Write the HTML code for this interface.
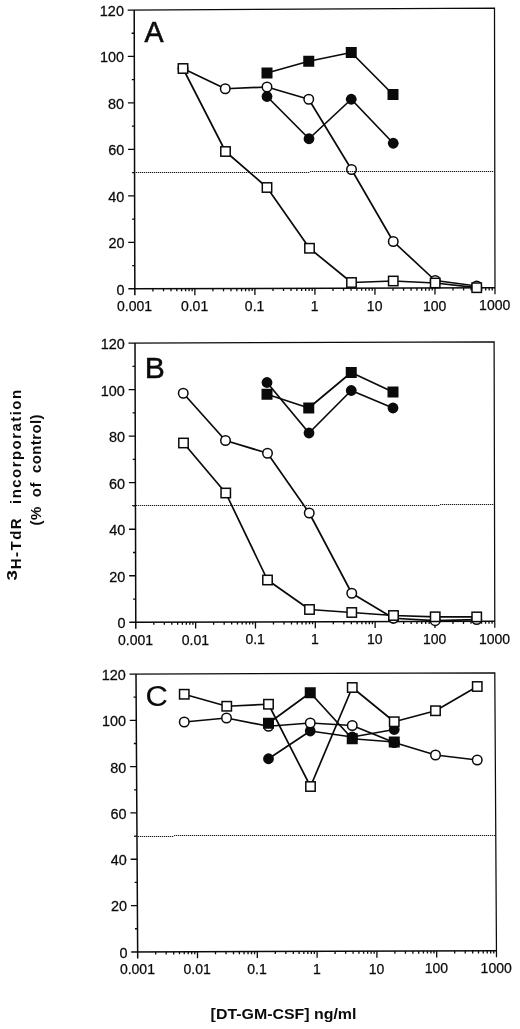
<!DOCTYPE html>
<html lang="en"><head><meta charset="utf-8"><title>Figure</title>
<style>html,body{margin:0;padding:0;background:#fff}svg{display:block;filter:grayscale(1)}</style>
</head><body>
<svg width="520" height="1029" viewBox="0 0 520 1029">
<rect width="520" height="1029" fill="#fff"/>
<g font-family="'Liberation Sans', Arial, Helvetica, sans-serif" fill="#0a0a0a">
<g id="panelA">
<path d="M127.70 10.03 L494.50 8.10 L495.00 294.35" fill="none" stroke="#0a0a0a" stroke-width="1.25"/>
<path d="M134.20 10.00 L134.85 295.35 M128.35 288.87 L495.00 287.85" fill="none" stroke="#0a0a0a" stroke-width="1.5"/>
<path d="M134.80 265.61h-2.6M134.74 242.38h-6.5M134.69 219.14h-2.6M134.63 195.90h-6.5M134.58 172.66h-2.6M134.52 149.43h-6.5M134.47 126.19h-2.6M134.42 102.95h-6.5M134.36 79.71h-2.6M134.31 56.47h-6.5M134.25 33.24h-2.6M152.92 288.80v2.6M163.49 288.77v2.6M170.99 288.75v2.6M176.81 288.73v2.6M181.56 288.72v2.6M185.58 288.71v2.6M189.06 288.70v2.6M192.13 288.69v2.6M194.88 288.68v6.5M212.94 288.63v2.6M223.51 288.60v2.6M231.01 288.58v2.6M236.83 288.57v2.6M241.58 288.55v2.6M245.60 288.54v2.6M249.08 288.53v2.6M252.15 288.52v2.6M254.90 288.52v6.5M272.97 288.47v2.6M283.54 288.44v2.6M291.04 288.42v2.6M296.86 288.40v2.6M301.61 288.39v2.6M305.63 288.38v2.6M309.11 288.37v2.6M312.18 288.36v2.6M314.92 288.35v6.5M332.99 288.30v2.6M343.56 288.27v2.6M351.06 288.25v2.6M356.88 288.23v2.6M361.63 288.22v2.6M365.65 288.21v2.6M369.13 288.20v2.6M372.20 288.19v2.6M374.95 288.18v6.5M393.02 288.13v2.6M403.59 288.10v2.6M411.09 288.08v2.6M416.91 288.07v2.6M421.66 288.05v2.6M425.68 288.04v2.6M429.16 288.03v2.6M432.23 288.02v2.6M434.98 288.02v6.5M453.04 287.97v2.6M463.61 287.94v2.6M471.11 287.92v2.6M476.93 287.90v2.6M481.68 287.89v2.6M485.70 287.88v2.6M489.18 287.87v2.6M492.25 287.86v2.6" fill="none" stroke="#0a0a0a" stroke-width="1.3"/>
<text transform="translate(124.55 294.75) scale(1.03 1)" font-size="14" text-anchor="end" stroke="#0a0a0a" stroke-width="0.25">0</text>
<text transform="translate(124.44 248.28) scale(1.03 1)" font-size="14" text-anchor="end" stroke="#0a0a0a" stroke-width="0.25">20</text>
<text transform="translate(124.33 201.80) scale(1.03 1)" font-size="14" text-anchor="end" stroke="#0a0a0a" stroke-width="0.25">40</text>
<text transform="translate(124.22 155.33) scale(1.03 1)" font-size="14" text-anchor="end" stroke="#0a0a0a" stroke-width="0.25">60</text>
<text transform="translate(124.12 108.85) scale(1.03 1)" font-size="14" text-anchor="end" stroke="#0a0a0a" stroke-width="0.25">80</text>
<text transform="translate(124.01 62.37) scale(1.03 1)" font-size="14" text-anchor="end" stroke="#0a0a0a" stroke-width="0.25">100</text>
<text transform="translate(123.90 15.90) scale(1.03 1)" font-size="14" text-anchor="end" stroke="#0a0a0a" stroke-width="0.25">120</text>
<text transform="translate(134.55 311.35) scale(1.0 1)" font-size="14" text-anchor="middle" stroke="#0a0a0a" stroke-width="0.25">0.001</text>
<text transform="translate(194.57 311.18) scale(1.0 1)" font-size="14" text-anchor="middle" stroke="#0a0a0a" stroke-width="0.25">0.01</text>
<text transform="translate(254.60 311.02) scale(1.0 1)" font-size="14" text-anchor="middle" stroke="#0a0a0a" stroke-width="0.25">0.1</text>
<text transform="translate(314.62 310.85) scale(1.0 1)" font-size="14" text-anchor="middle" stroke="#0a0a0a" stroke-width="0.25">1</text>
<text transform="translate(374.65 310.68) scale(1.0 1)" font-size="14" text-anchor="middle" stroke="#0a0a0a" stroke-width="0.25">10</text>
<text transform="translate(434.68 310.52) scale(1.0 1)" font-size="14" text-anchor="middle" stroke="#0a0a0a" stroke-width="0.25">100</text>
<text transform="translate(494.70 310.35) scale(1.0 1)" font-size="14" text-anchor="middle" stroke="#0a0a0a" stroke-width="0.25">1000</text>
<text transform="translate(144.6 41.9) scale(0.97 1)" font-size="29.5" stroke="#0a0a0a" stroke-width="0.6">A</text>
<polyline points="267.00,96.50 309.00,138.75 351.25,99.25 393.25,143.25" fill="none" stroke="#0a0a0a" stroke-width="1.7" stroke-linejoin="round"/>
<polyline points="183.00,68.50 225.25,88.75 267.00,87.00 308.75,99.25 351.50,169.50 393.25,241.50 435.20,280.50 476.70,286.00" fill="none" stroke="#0a0a0a" stroke-width="1.7" stroke-linejoin="round"/>
<polyline points="267.00,73.00 308.75,61.25 351.25,52.50 393.00,94.50" fill="none" stroke="#0a0a0a" stroke-width="1.7" stroke-linejoin="round"/>
<polyline points="183.00,68.50 225.50,151.50 267.00,187.50 309.50,248.25 351.50,282.50 393.25,281.00 435.20,283.00 476.70,287.70" fill="none" stroke="#0a0a0a" stroke-width="1.7" stroke-linejoin="round"/>
<circle cx="267.00" cy="96.50" r="5.4" fill="#0a0a0a"/>
<circle cx="309.00" cy="138.75" r="5.4" fill="#0a0a0a"/>
<circle cx="351.25" cy="99.25" r="5.4" fill="#0a0a0a"/>
<circle cx="393.25" cy="143.25" r="5.4" fill="#0a0a0a"/>
<circle cx="183.00" cy="68.50" r="4.75" fill="#fff" stroke="#0a0a0a" stroke-width="1.5"/>
<circle cx="225.25" cy="88.75" r="4.75" fill="#fff" stroke="#0a0a0a" stroke-width="1.5"/>
<circle cx="267.00" cy="87.00" r="4.75" fill="#fff" stroke="#0a0a0a" stroke-width="1.5"/>
<circle cx="308.75" cy="99.25" r="4.75" fill="#fff" stroke="#0a0a0a" stroke-width="1.5"/>
<circle cx="351.50" cy="169.50" r="4.75" fill="#fff" stroke="#0a0a0a" stroke-width="1.5"/>
<circle cx="393.25" cy="241.50" r="4.75" fill="#fff" stroke="#0a0a0a" stroke-width="1.5"/>
<circle cx="435.20" cy="280.50" r="4.75" fill="#fff" stroke="#0a0a0a" stroke-width="1.5"/>
<circle cx="476.70" cy="286.00" r="4.75" fill="#fff" stroke="#0a0a0a" stroke-width="1.5"/>
<rect x="261.50" y="67.50" width="11" height="11" fill="#0a0a0a"/>
<rect x="303.25" y="55.75" width="11" height="11" fill="#0a0a0a"/>
<rect x="345.75" y="47.00" width="11" height="11" fill="#0a0a0a"/>
<rect x="387.50" y="89.00" width="11" height="11" fill="#0a0a0a"/>
<rect x="178.30" y="63.80" width="9.4" height="9.4" fill="#fff" stroke="#0a0a0a" stroke-width="1.5"/>
<rect x="220.80" y="146.80" width="9.4" height="9.4" fill="#fff" stroke="#0a0a0a" stroke-width="1.5"/>
<rect x="262.30" y="182.80" width="9.4" height="9.4" fill="#fff" stroke="#0a0a0a" stroke-width="1.5"/>
<rect x="304.80" y="243.55" width="9.4" height="9.4" fill="#fff" stroke="#0a0a0a" stroke-width="1.5"/>
<rect x="346.80" y="277.80" width="9.4" height="9.4" fill="#fff" stroke="#0a0a0a" stroke-width="1.5"/>
<rect x="388.55" y="276.30" width="9.4" height="9.4" fill="#fff" stroke="#0a0a0a" stroke-width="1.5"/>
<rect x="430.50" y="278.30" width="9.4" height="9.4" fill="#fff" stroke="#0a0a0a" stroke-width="1.5"/>
<rect x="472.00" y="283.00" width="9.4" height="9.4" fill="#fff" stroke="#0a0a0a" stroke-width="1.5"/>
<path d="M132 172.5h1.25M134 172.5h1.25M136 172.5h1.25M138 172.5h1.25M140 172.5h1.25M142 172.5h1.25M144 172.5h1.25M146 172.5h1.25M148 172.5h1.25M150 172.5h1.25M152 172.5h1.25M154 172.5h1.25M156 172.5h1.25M158 172.5h1.25M160 172.5h1.25M162 172.5h1.25M164 172.5h1.25M166 172.5h1.25M168 172.5h1.25M170 172.5h1.25M172 172.5h1.25M174 172.5h1.25M176 172.5h1.25M178 172.5h1.25M180 172.5h1.25M182 172.5h1.25M184 172.5h1.25M186 172.5h1.25M188 172.5h1.25M190 172.5h1.25M192 172.5h1.25M194 172.5h1.25M196 172.5h1.25M198 172.5h1.25M200 172.5h1.25M202 172.5h1.25M204 172.5h1.25M206 172.5h1.25M208 172.5h1.25M210 172.5h1.25M212 172.5h1.25M214 172.5h1.25M216 172.5h1.25M218 172.5h1.25M220 172.5h1.25M222 172.5h1.25M224 172.5h1.25M226 172.5h1.25M228 172.5h1.25M230 172.5h1.25M232 172.5h1.25M234 172.5h1.25M236 172.5h1.25M238 172.5h1.25M240 172.5h1.25M242 172.5h1.25M244 172.5h1.25M246 172.5h1.25M248 172.5h1.25M250 172.5h1.25M252 172.5h1.25M254 172.5h1.25M256 172.5h1.25M258 172.5h1.25M260 172.5h1.25M262 172.5h1.25M264 172.5h1.25M266 172.5h1.25M268 172.5h1.25M270 172.5h1.25M272 172.5h1.25M274 172.5h1.25M276 172.5h1.25M278 172.5h1.25M280 172.5h1.25M282 172.5h1.25M284 172.5h1.25M286 172.5h1.25M288 172.5h1.25M290 172.5h1.25M292 172.5h1.25M294 172.5h1.25M296 172.5h1.25M298 172.5h1.25M300 172.5h1.25M302 172.5h1.25M304 172.5h1.25M306 172.5h1.25M308 172.5h1.25M310 171.5h1.25M312 171.5h1.25M314 171.5h1.25M316 171.5h1.25M318 171.5h1.25M320 171.5h1.25M322 171.5h1.25M324 171.5h1.25M326 171.5h1.25M328 171.5h1.25M330 171.5h1.25M332 171.5h1.25M334 171.5h1.25M336 171.5h1.25M338 171.5h1.25M340 171.5h1.25M342 171.5h1.25M344 171.5h1.25M346 171.5h1.25M348 171.5h1.25M350 171.5h1.25M352 171.5h1.25M354 171.5h1.25M356 171.5h1.25M358 171.5h1.25M360 171.5h1.25M362 171.5h1.25M364 171.5h1.25M366 171.5h1.25M368 171.5h1.25M370 171.5h1.25M372 171.5h1.25M374 171.5h1.25M376 171.5h1.25M378 171.5h1.25M380 171.5h1.25M382 171.5h1.25M384 171.5h1.25M386 171.5h1.25M388 171.5h1.25M390 171.5h1.25M392 171.5h1.25M394 171.5h1.25M396 171.5h1.25M398 171.5h1.25M400 171.5h1.25M402 171.5h1.25M404 171.5h1.25M406 171.5h1.25M408 171.5h1.25M410 171.5h1.25M412 171.5h1.25M414 171.5h1.25M416 171.5h1.25M418 171.5h1.25M420 171.5h1.25M422 171.5h1.25M424 171.5h1.25M426 171.5h1.25M428 171.5h1.25M430 171.5h1.25M432 171.5h1.25M434 171.5h1.25M436 171.5h1.25M438 171.5h1.25M440 171.5h1.25M442 171.5h1.25M444 171.5h1.25M446 171.5h1.25M448 171.5h1.25M450 171.5h1.25M452 171.5h1.25M454 171.5h1.25M456 171.5h1.25M458 171.5h1.25M460 171.5h1.25M462 171.5h1.25M464 171.5h1.25M466 171.5h1.25M468 171.5h1.25M470 171.5h1.25M472 171.5h1.25M474 171.5h1.25M476 171.5h1.25M478 171.5h1.25M480 171.5h1.25M482 171.5h1.25M484 171.5h1.25M486 171.5h1.25M488 171.5h1.25M490 171.5h1.25M492 171.5h1.25" fill="none" stroke="#1a1a1a" stroke-width="1.15"/>
</g>
<g id="panelB">
<path d="M128.50 343.13 L494.10 341.90 L494.80 627.70" fill="none" stroke="#0a0a0a" stroke-width="1.25"/>
<path d="M135.00 343.10 L135.80 628.80 M129.30 622.32 L494.80 621.20" fill="none" stroke="#0a0a0a" stroke-width="1.5"/>
<path d="M135.73 599.03h-2.6M135.67 575.77h-6.5M135.60 552.50h-2.6M135.53 529.23h-6.5M135.47 505.97h-2.6M135.40 482.70h-6.5M135.33 459.43h-2.6M135.27 436.17h-6.5M135.20 412.90h-2.6M135.13 389.63h-6.5M135.07 366.37h-2.6M153.81 622.24v2.6M164.35 622.21v2.6M171.82 622.19v2.6M177.62 622.17v2.6M182.36 622.16v2.6M186.37 622.15v2.6M189.83 622.13v2.6M192.90 622.13v2.6M195.63 622.12v6.5M213.64 622.06v2.6M224.18 622.03v2.6M231.66 622.01v2.6M237.46 621.99v2.6M242.19 621.97v2.6M246.20 621.96v2.6M249.67 621.95v2.6M252.73 621.94v2.6M255.47 621.93v6.5M273.48 621.88v2.6M284.01 621.85v2.6M291.49 621.82v2.6M297.29 621.81v2.6M302.03 621.79v2.6M306.03 621.78v2.6M309.50 621.77v2.6M312.56 621.76v2.6M315.30 621.75v6.5M333.31 621.69v2.6M343.85 621.66v2.6M351.32 621.64v2.6M357.12 621.62v2.6M361.86 621.61v2.6M365.87 621.60v2.6M369.33 621.58v2.6M372.40 621.58v2.6M375.13 621.57v6.5M393.14 621.51v2.6M403.68 621.48v2.6M411.16 621.46v2.6M416.96 621.44v2.6M421.69 621.42v2.6M425.70 621.41v2.6M429.17 621.40v2.6M432.23 621.39v2.6M434.97 621.38v6.5M452.98 621.33v2.6M463.51 621.30v2.6M470.99 621.27v2.6M476.79 621.26v2.6M481.53 621.24v2.6M485.53 621.23v2.6M489.00 621.22v2.6M492.06 621.21v2.6" fill="none" stroke="#0a0a0a" stroke-width="1.3"/>
<text transform="translate(125.50 628.20) scale(1.03 1)" font-size="14" text-anchor="end" stroke="#0a0a0a" stroke-width="0.25">0</text>
<text transform="translate(125.37 581.67) scale(1.03 1)" font-size="14" text-anchor="end" stroke="#0a0a0a" stroke-width="0.25">20</text>
<text transform="translate(125.23 535.13) scale(1.03 1)" font-size="14" text-anchor="end" stroke="#0a0a0a" stroke-width="0.25">40</text>
<text transform="translate(125.10 488.60) scale(1.03 1)" font-size="14" text-anchor="end" stroke="#0a0a0a" stroke-width="0.25">60</text>
<text transform="translate(124.97 442.07) scale(1.03 1)" font-size="14" text-anchor="end" stroke="#0a0a0a" stroke-width="0.25">80</text>
<text transform="translate(124.83 395.53) scale(1.03 1)" font-size="14" text-anchor="end" stroke="#0a0a0a" stroke-width="0.25">100</text>
<text transform="translate(124.70 349.00) scale(1.03 1)" font-size="14" text-anchor="end" stroke="#0a0a0a" stroke-width="0.25">120</text>
<text transform="translate(135.50 644.80) scale(1.0 1)" font-size="14" text-anchor="middle" stroke="#0a0a0a" stroke-width="0.25">0.001</text>
<text transform="translate(195.33 644.62) scale(1.0 1)" font-size="14" text-anchor="middle" stroke="#0a0a0a" stroke-width="0.25">0.01</text>
<text transform="translate(255.17 644.43) scale(1.0 1)" font-size="14" text-anchor="middle" stroke="#0a0a0a" stroke-width="0.25">0.1</text>
<text transform="translate(315.00 644.25) scale(1.0 1)" font-size="14" text-anchor="middle" stroke="#0a0a0a" stroke-width="0.25">1</text>
<text transform="translate(374.83 644.07) scale(1.0 1)" font-size="14" text-anchor="middle" stroke="#0a0a0a" stroke-width="0.25">10</text>
<text transform="translate(434.67 643.88) scale(1.0 1)" font-size="14" text-anchor="middle" stroke="#0a0a0a" stroke-width="0.25">100</text>
<text transform="translate(494.50 643.70) scale(1.0 1)" font-size="14" text-anchor="middle" stroke="#0a0a0a" stroke-width="0.25">1000</text>
<text transform="translate(144.75 377.7) scale(1.02 1)" font-size="29.5" stroke="#0a0a0a" stroke-width="0.5">B</text>
<polyline points="267.00,382.50 309.00,433.00 351.25,390.50 393.00,408.00" fill="none" stroke="#0a0a0a" stroke-width="1.7" stroke-linejoin="round"/>
<polyline points="183.25,393.25 225.50,440.50 267.50,453.25 309.25,513.00 351.75,593.25 393.50,618.25 435.20,620.70 476.70,619.60" fill="none" stroke="#0a0a0a" stroke-width="1.7" stroke-linejoin="round"/>
<polyline points="267.00,394.25 308.75,408.00 351.25,372.50 393.00,392.00" fill="none" stroke="#0a0a0a" stroke-width="1.7" stroke-linejoin="round"/>
<polyline points="183.50,443.00 225.75,493.00 267.50,580.00 309.50,609.50 351.75,612.50 393.50,615.50 435.20,616.80 476.70,616.90" fill="none" stroke="#0a0a0a" stroke-width="1.7" stroke-linejoin="round"/>
<circle cx="267.00" cy="382.50" r="5.4" fill="#0a0a0a"/>
<circle cx="309.00" cy="433.00" r="5.4" fill="#0a0a0a"/>
<circle cx="351.25" cy="390.50" r="5.4" fill="#0a0a0a"/>
<circle cx="393.00" cy="408.00" r="5.4" fill="#0a0a0a"/>
<circle cx="183.25" cy="393.25" r="4.75" fill="#fff" stroke="#0a0a0a" stroke-width="1.5"/>
<circle cx="225.50" cy="440.50" r="4.75" fill="#fff" stroke="#0a0a0a" stroke-width="1.5"/>
<circle cx="267.50" cy="453.25" r="4.75" fill="#fff" stroke="#0a0a0a" stroke-width="1.5"/>
<circle cx="309.25" cy="513.00" r="4.75" fill="#fff" stroke="#0a0a0a" stroke-width="1.5"/>
<circle cx="351.75" cy="593.25" r="4.75" fill="#fff" stroke="#0a0a0a" stroke-width="1.5"/>
<circle cx="393.50" cy="618.25" r="4.75" fill="#fff" stroke="#0a0a0a" stroke-width="1.5"/>
<circle cx="435.20" cy="620.70" r="4.75" fill="#fff" stroke="#0a0a0a" stroke-width="1.5"/>
<circle cx="476.70" cy="619.60" r="4.75" fill="#fff" stroke="#0a0a0a" stroke-width="1.5"/>
<rect x="261.50" y="388.75" width="11" height="11" fill="#0a0a0a"/>
<rect x="303.25" y="402.50" width="11" height="11" fill="#0a0a0a"/>
<rect x="345.75" y="367.00" width="11" height="11" fill="#0a0a0a"/>
<rect x="387.50" y="386.50" width="11" height="11" fill="#0a0a0a"/>
<rect x="178.80" y="438.30" width="9.4" height="9.4" fill="#fff" stroke="#0a0a0a" stroke-width="1.5"/>
<rect x="221.05" y="488.30" width="9.4" height="9.4" fill="#fff" stroke="#0a0a0a" stroke-width="1.5"/>
<rect x="262.80" y="575.30" width="9.4" height="9.4" fill="#fff" stroke="#0a0a0a" stroke-width="1.5"/>
<rect x="304.80" y="604.80" width="9.4" height="9.4" fill="#fff" stroke="#0a0a0a" stroke-width="1.5"/>
<rect x="347.05" y="607.80" width="9.4" height="9.4" fill="#fff" stroke="#0a0a0a" stroke-width="1.5"/>
<rect x="388.80" y="610.80" width="9.4" height="9.4" fill="#fff" stroke="#0a0a0a" stroke-width="1.5"/>
<rect x="430.50" y="612.10" width="9.4" height="9.4" fill="#fff" stroke="#0a0a0a" stroke-width="1.5"/>
<rect x="472.00" y="612.20" width="9.4" height="9.4" fill="#fff" stroke="#0a0a0a" stroke-width="1.5"/>
<path d="M132 505.5h1.25M134 505.5h1.25M136 505.5h1.25M138 505.5h1.25M140 505.5h1.25M142 505.5h1.25M144 505.5h1.25M146 505.5h1.25M148 505.5h1.25M150 505.5h1.25M152 505.5h1.25M154 505.5h1.25M156 505.5h1.25M158 505.5h1.25M160 505.5h1.25M162 505.5h1.25M164 505.5h1.25M166 505.5h1.25M168 505.5h1.25M170 505.5h1.25M172 505.5h1.25M174 505.5h1.25M176 505.5h1.25M178 505.5h1.25M180 505.5h1.25M182 505.5h1.25M184 505.5h1.25M186 505.5h1.25M188 505.5h1.25M190 505.5h1.25M192 505.5h1.25M194 505.5h1.25M196 505.5h1.25M198 505.5h1.25M200 505.5h1.25M202 505.5h1.25M204 505.5h1.25M206 505.5h1.25M208 505.5h1.25M210 505.5h1.25M212 505.5h1.25M214 505.5h1.25M216 505.5h1.25M218 505.5h1.25M220 505.5h1.25M222 505.5h1.25M224 505.5h1.25M226 505.5h1.25M228 505.5h1.25M230 505.5h1.25M232 505.5h1.25M234 505.5h1.25M236 505.5h1.25M238 505.5h1.25M240 505.5h1.25M242 505.5h1.25M244 505.5h1.25M246 505.5h1.25M248 505.5h1.25M250 505.5h1.25M252 505.5h1.25M254 505.5h1.25M256 505.5h1.25M258 505.5h1.25M260 505.5h1.25M262 505.5h1.25M264 505.5h1.25M266 505.5h1.25M268 505.5h1.25M270 505.5h1.25M272 505.5h1.25M274 505.5h1.25M276 505.5h1.25M278 505.5h1.25M280 505.5h1.25M282 505.5h1.25M284 505.5h1.25M286 505.5h1.25M288 505.5h1.25M290 505.5h1.25M292 505.5h1.25M294 505.5h1.25M296 505.5h1.25M298 505.5h1.25M300 505.5h1.25M302 505.5h1.25M304 505.5h1.25M306 505.5h1.25M308 505.5h1.25M310 505.5h1.25M312 505.5h1.25M314 505.5h1.25M316 505.5h1.25M318 505.5h1.25M320 505.5h1.25M322 505.5h1.25M324 505.5h1.25M326 505.5h1.25M328 505.5h1.25M330 505.5h1.25M332 505.5h1.25M334 505.5h1.25M336 505.5h1.25M338 505.5h1.25M340 505.5h1.25M342 505.5h1.25M344 505.5h1.25M346 505.5h1.25M348 505.5h1.25M350 505.5h1.25M352 505.5h1.25M354 505.5h1.25M356 505.5h1.25M358 505.5h1.25M360 505.5h1.25M362 505.5h1.25M364 505.5h1.25M366 505.5h1.25M368 505.5h1.25M370 505.5h1.25M372 505.5h1.25M374 505.5h1.25M376 505.5h1.25M378 505.5h1.25M380 505.5h1.25M382 505.5h1.25M384 505.5h1.25M386 505.5h1.25M388 505.5h1.25M390 505.5h1.25M392 505.5h1.25M394 505.5h1.25M396 505.5h1.25M398 505.5h1.25M400 505.5h1.25M402 505.5h1.25M404 505.5h1.25M406 505.5h1.25M408 505.5h1.25M410 505.5h1.25M412 505.5h1.25M414 505.5h1.25M416 505.5h1.25M418 505.5h1.25M420 505.5h1.25M422 505.5h1.25M424 505.5h1.25M426 505.5h1.25M428 505.5h1.25M430 505.5h1.25M432 505.5h1.25M434 505.5h1.25M436 505.5h1.25M438 505.5h1.25M440 504.5h1.25M442 504.5h1.25M444 504.5h1.25M446 504.5h1.25M448 504.5h1.25M450 504.5h1.25M452 504.5h1.25M454 504.5h1.25M456 504.5h1.25M458 504.5h1.25M460 504.5h1.25M462 504.5h1.25M464 504.5h1.25M466 504.5h1.25M468 504.5h1.25M470 504.5h1.25M472 504.5h1.25M474 504.5h1.25M476 504.5h1.25M478 504.5h1.25M480 504.5h1.25M482 504.5h1.25M484 504.5h1.25M486 504.5h1.25M488 504.5h1.25M490 504.5h1.25M492 504.5h1.25" fill="none" stroke="#1a1a1a" stroke-width="1.15"/>
</g>
<g id="panelC">
<path d="M129.50 674.03 L494.80 672.90 L496.50 957.30" fill="none" stroke="#0a0a0a" stroke-width="1.25"/>
<path d="M136.00 674.00 L137.70 958.40 M131.20 951.92 L496.50 950.80" fill="none" stroke="#0a0a0a" stroke-width="1.5"/>
<path d="M137.56 928.74h-2.6M137.42 905.58h-6.5M137.27 882.42h-2.6M137.13 859.27h-6.5M136.99 836.11h-2.6M136.85 812.95h-6.5M136.71 789.79h-2.6M136.57 766.63h-6.5M136.43 743.48h-2.6M136.28 720.32h-6.5M136.14 697.16h-2.6M155.70 951.84v2.6M166.23 951.81v2.6M173.70 951.79v2.6M179.50 951.77v2.6M184.23 951.76v2.6M188.24 951.75v2.6M191.70 951.73v2.6M194.76 951.73v2.6M197.50 951.72v6.5M215.50 951.66v2.6M226.03 951.63v2.6M233.50 951.61v2.6M239.30 951.59v2.6M244.03 951.57v2.6M248.04 951.56v2.6M251.50 951.55v2.6M254.56 951.54v2.6M257.30 951.53v6.5M275.30 951.48v2.6M285.83 951.45v2.6M293.30 951.42v2.6M299.10 951.41v2.6M303.83 951.39v2.6M307.84 951.38v2.6M311.30 951.37v2.6M314.36 951.36v2.6M317.10 951.35v6.5M335.10 951.29v2.6M345.63 951.26v2.6M353.10 951.24v2.6M358.90 951.22v2.6M363.63 951.21v2.6M367.64 951.20v2.6M371.10 951.18v2.6M374.16 951.18v2.6M376.90 951.17v6.5M394.90 951.11v2.6M405.43 951.08v2.6M412.90 951.06v2.6M418.70 951.04v2.6M423.43 951.02v2.6M427.44 951.01v2.6M430.90 951.00v2.6M433.96 950.99v2.6M436.70 950.98v6.5M454.70 950.93v2.6M465.23 950.90v2.6M472.70 950.87v2.6M478.50 950.86v2.6M483.23 950.84v2.6M487.24 950.83v2.6M490.70 950.82v2.6M493.76 950.81v2.6" fill="none" stroke="#0a0a0a" stroke-width="1.3"/>
<text transform="translate(127.40 957.80) scale(1.03 1)" font-size="14" text-anchor="end" stroke="#0a0a0a" stroke-width="0.25">0</text>
<text transform="translate(127.12 911.48) scale(1.03 1)" font-size="14" text-anchor="end" stroke="#0a0a0a" stroke-width="0.25">20</text>
<text transform="translate(126.83 865.17) scale(1.03 1)" font-size="14" text-anchor="end" stroke="#0a0a0a" stroke-width="0.25">40</text>
<text transform="translate(126.55 818.85) scale(1.03 1)" font-size="14" text-anchor="end" stroke="#0a0a0a" stroke-width="0.25">60</text>
<text transform="translate(126.27 772.53) scale(1.03 1)" font-size="14" text-anchor="end" stroke="#0a0a0a" stroke-width="0.25">80</text>
<text transform="translate(125.98 726.22) scale(1.03 1)" font-size="14" text-anchor="end" stroke="#0a0a0a" stroke-width="0.25">100</text>
<text transform="translate(125.70 679.90) scale(1.03 1)" font-size="14" text-anchor="end" stroke="#0a0a0a" stroke-width="0.25">120</text>
<text transform="translate(137.40 974.40) scale(1.0 1)" font-size="14" text-anchor="middle" stroke="#0a0a0a" stroke-width="0.25">0.001</text>
<text transform="translate(197.20 974.22) scale(1.0 1)" font-size="14" text-anchor="middle" stroke="#0a0a0a" stroke-width="0.25">0.01</text>
<text transform="translate(257.00 974.03) scale(1.0 1)" font-size="14" text-anchor="middle" stroke="#0a0a0a" stroke-width="0.25">0.1</text>
<text transform="translate(316.80 973.85) scale(1.0 1)" font-size="14" text-anchor="middle" stroke="#0a0a0a" stroke-width="0.25">1</text>
<text transform="translate(376.60 973.67) scale(1.0 1)" font-size="14" text-anchor="middle" stroke="#0a0a0a" stroke-width="0.25">10</text>
<text transform="translate(436.40 973.48) scale(1.0 1)" font-size="14" text-anchor="middle" stroke="#0a0a0a" stroke-width="0.25">100</text>
<text transform="translate(496.20 973.30) scale(1.0 1)" font-size="14" text-anchor="middle" stroke="#0a0a0a" stroke-width="0.25">1000</text>
<text transform="translate(145.4 706.2) scale(1.05 1)" font-size="29.5" stroke="#0a0a0a" stroke-width="0.1">C</text>
<polyline points="268.50,758.75 310.25,731.00 352.25,737.00 394.25,729.50" fill="none" stroke="#0a0a0a" stroke-width="1.7" stroke-linejoin="round"/>
<polyline points="184.25,722.00 226.50,718.00 268.50,726.25 310.25,723.00 352.25,725.50 394.25,742.50 435.50,755.00 477.25,760.00" fill="none" stroke="#0a0a0a" stroke-width="1.7" stroke-linejoin="round"/>
<polyline points="268.50,723.25 310.25,692.75 352.25,738.75 394.25,742.00" fill="none" stroke="#0a0a0a" stroke-width="1.7" stroke-linejoin="round"/>
<polyline points="184.25,694.25 226.75,706.25 268.50,704.25 310.50,786.50 352.25,687.50 394.25,721.75 435.50,710.75 477.25,686.50" fill="none" stroke="#0a0a0a" stroke-width="1.7" stroke-linejoin="round"/>
<circle cx="268.50" cy="758.75" r="5.4" fill="#0a0a0a"/>
<circle cx="310.25" cy="731.00" r="5.4" fill="#0a0a0a"/>
<circle cx="352.25" cy="737.00" r="5.4" fill="#0a0a0a"/>
<circle cx="394.25" cy="729.50" r="5.4" fill="#0a0a0a"/>
<circle cx="184.25" cy="722.00" r="4.75" fill="#fff" stroke="#0a0a0a" stroke-width="1.5"/>
<circle cx="226.50" cy="718.00" r="4.75" fill="#fff" stroke="#0a0a0a" stroke-width="1.5"/>
<circle cx="268.50" cy="726.25" r="4.75" fill="#fff" stroke="#0a0a0a" stroke-width="1.5"/>
<circle cx="310.25" cy="723.00" r="4.75" fill="#fff" stroke="#0a0a0a" stroke-width="1.5"/>
<circle cx="352.25" cy="725.50" r="4.75" fill="#fff" stroke="#0a0a0a" stroke-width="1.5"/>
<circle cx="394.25" cy="742.50" r="4.75" fill="#fff" stroke="#0a0a0a" stroke-width="1.5"/>
<circle cx="435.50" cy="755.00" r="4.75" fill="#fff" stroke="#0a0a0a" stroke-width="1.5"/>
<circle cx="477.25" cy="760.00" r="4.75" fill="#fff" stroke="#0a0a0a" stroke-width="1.5"/>
<rect x="263.00" y="717.75" width="11" height="11" fill="#0a0a0a"/>
<rect x="304.75" y="687.25" width="11" height="11" fill="#0a0a0a"/>
<rect x="346.75" y="733.25" width="11" height="11" fill="#0a0a0a"/>
<rect x="388.75" y="736.50" width="11" height="11" fill="#0a0a0a"/>
<rect x="179.55" y="689.55" width="9.4" height="9.4" fill="#fff" stroke="#0a0a0a" stroke-width="1.5"/>
<rect x="222.05" y="701.55" width="9.4" height="9.4" fill="#fff" stroke="#0a0a0a" stroke-width="1.5"/>
<rect x="263.80" y="699.55" width="9.4" height="9.4" fill="#fff" stroke="#0a0a0a" stroke-width="1.5"/>
<rect x="305.80" y="781.80" width="9.4" height="9.4" fill="#fff" stroke="#0a0a0a" stroke-width="1.5"/>
<rect x="347.55" y="682.80" width="9.4" height="9.4" fill="#fff" stroke="#0a0a0a" stroke-width="1.5"/>
<rect x="389.55" y="717.05" width="9.4" height="9.4" fill="#fff" stroke="#0a0a0a" stroke-width="1.5"/>
<rect x="430.80" y="706.05" width="9.4" height="9.4" fill="#fff" stroke="#0a0a0a" stroke-width="1.5"/>
<rect x="472.55" y="681.80" width="9.4" height="9.4" fill="#fff" stroke="#0a0a0a" stroke-width="1.5"/>
<path d="M134 836.5h1.25M136 836.5h1.25M138 836.5h1.25M140 836.5h1.25M142 836.5h1.25M144 836.5h1.25M146 836.5h1.25M148 836.5h1.25M150 836.5h1.25M152 836.5h1.25M154 836.5h1.25M156 836.5h1.25M158 836.5h1.25M160 836.5h1.25M162 836.5h1.25M164 836.5h1.25M166 836.5h1.25M168 836.5h1.25M170 836.5h1.25M172 836.5h1.25M174 835.5h1.25M176 835.5h1.25M178 835.5h1.25M180 835.5h1.25M182 835.5h1.25M184 835.5h1.25M186 835.5h1.25M188 835.5h1.25M190 835.5h1.25M192 835.5h1.25M194 835.5h1.25M196 835.5h1.25M198 835.5h1.25M200 835.5h1.25M202 835.5h1.25M204 835.5h1.25M206 835.5h1.25M208 835.5h1.25M210 835.5h1.25M212 835.5h1.25M214 835.5h1.25M216 835.5h1.25M218 835.5h1.25M220 835.5h1.25M222 835.5h1.25M224 835.5h1.25M226 835.5h1.25M228 835.5h1.25M230 835.5h1.25M232 835.5h1.25M234 835.5h1.25M236 835.5h1.25M238 835.5h1.25M240 835.5h1.25M242 835.5h1.25M244 835.5h1.25M246 835.5h1.25M248 835.5h1.25M250 835.5h1.25M252 835.5h1.25M254 835.5h1.25M256 835.5h1.25M258 835.5h1.25M260 835.5h1.25M262 835.5h1.25M264 835.5h1.25M266 835.5h1.25M268 835.5h1.25M270 835.5h1.25M272 835.5h1.25M274 835.5h1.25M276 835.5h1.25M278 835.5h1.25M280 835.5h1.25M282 835.5h1.25M284 835.5h1.25M286 835.5h1.25M288 835.5h1.25M290 835.5h1.25M292 835.5h1.25M294 835.5h1.25M296 835.5h1.25M298 835.5h1.25M300 835.5h1.25M302 835.5h1.25M304 835.5h1.25M306 835.5h1.25M308 835.5h1.25M310 835.5h1.25M312 835.5h1.25M314 835.5h1.25M316 835.5h1.25M318 835.5h1.25M320 835.5h1.25M322 835.5h1.25M324 835.5h1.25M326 835.5h1.25M328 835.5h1.25M330 835.5h1.25M332 835.5h1.25M334 835.5h1.25M336 835.5h1.25M338 835.5h1.25M340 835.5h1.25M342 835.5h1.25M344 835.5h1.25M346 835.5h1.25M348 835.5h1.25M350 835.5h1.25M352 835.5h1.25M354 835.5h1.25M356 835.5h1.25M358 835.5h1.25M360 835.5h1.25M362 835.5h1.25M364 835.5h1.25M366 835.5h1.25M368 835.5h1.25M370 835.5h1.25M372 835.5h1.25M374 835.5h1.25M376 835.5h1.25M378 835.5h1.25M380 835.5h1.25M382 835.5h1.25M384 835.5h1.25M386 835.5h1.25M388 835.5h1.25M390 835.5h1.25M392 835.5h1.25M394 835.5h1.25M396 835.5h1.25M398 835.5h1.25M400 835.5h1.25M402 835.5h1.25M404 835.5h1.25M406 835.5h1.25M408 835.5h1.25M410 835.5h1.25M412 835.5h1.25M414 835.5h1.25M416 835.5h1.25M418 835.5h1.25M420 835.5h1.25M422 835.5h1.25M424 835.5h1.25M426 835.5h1.25M428 835.5h1.25M430 835.5h1.25M432 835.5h1.25M434 835.5h1.25M436 835.5h1.25M438 835.5h1.25M440 835.5h1.25M442 835.5h1.25M444 835.5h1.25M446 835.5h1.25M448 835.5h1.25M450 835.5h1.25M452 835.5h1.25M454 835.5h1.25M456 835.5h1.25M458 835.5h1.25M460 835.5h1.25M462 835.5h1.25M464 835.5h1.25M466 835.5h1.25M468 835.5h1.25M470 835.5h1.25M472 835.5h1.25M474 835.5h1.25M476 835.5h1.25M478 835.5h1.25M480 835.5h1.25M482 835.5h1.25M484 835.5h1.25M486 835.5h1.25M488 835.5h1.25M490 835.5h1.25M492 835.5h1.25M494 835.5h1.25" fill="none" stroke="#1a1a1a" stroke-width="1.15"/>
</g>
<g font-weight="bold" font-size="15">
<text transform="translate(21.3 569.2) rotate(-90)" letter-spacing="1.45" word-spacing="0.9" xml:space="preserve">H-TdR  incorporation</text>
<text transform="translate(17.3 580.5) rotate(-90) scale(1.25 1)" font-size="15">3</text>
<text transform="translate(41 525.4) rotate(-90)" letter-spacing="0.4" xml:space="preserve">(%  of  control)</text>
<text x="210.6" y="1018.7" textLength="145.8" lengthAdjust="spacingAndGlyphs">[DT-GM-CSF] ng/ml</text>
</g>
</g></svg>
</body></html>
